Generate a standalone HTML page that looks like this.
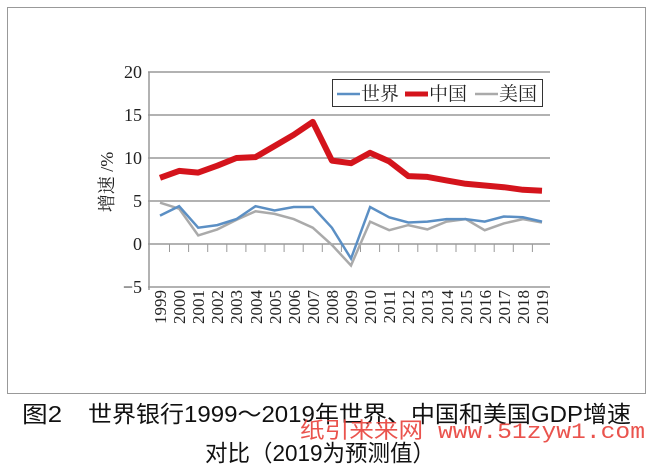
<!DOCTYPE html>
<html><head><meta charset="utf-8"><style>
body{margin:0;background:#fff;width:653px;height:472px;overflow:hidden}
svg{display:block}
</style></head><body>
<svg width="653" height="472" xmlns="http://www.w3.org/2000/svg" font-family="'Liberation Serif','Noto Serif CJK SC',serif">
<rect x="7.5" y="7.5" width="638" height="386" fill="#fff" stroke="#999" stroke-width="1"/>
<g stroke="#999" stroke-width="1.5">
<line x1="148" y1="72" x2="550" y2="72"/>
<line x1="148" y1="115" x2="550" y2="115"/>
<line x1="148" y1="158" x2="550" y2="158"/>
<line x1="148" y1="201" x2="550" y2="201"/>
<line x1="148" y1="244" x2="550" y2="244"/>
<line x1="148" y1="287" x2="550" y2="287"/>
<line x1="149" y1="72" x2="149" y2="290"/>
</g>
<g stroke="#999" stroke-width="1">
<line x1="169.5" y1="244" x2="169.5" y2="252"/><line x1="188.6" y1="244" x2="188.6" y2="252"/><line x1="207.7" y1="244" x2="207.7" y2="252"/><line x1="226.8" y1="244" x2="226.8" y2="252"/><line x1="245.9" y1="244" x2="245.9" y2="252"/><line x1="265" y1="244" x2="265" y2="252"/><line x1="284.1" y1="244" x2="284.1" y2="252"/><line x1="303.2" y1="244" x2="303.2" y2="252"/><line x1="322.3" y1="244" x2="322.3" y2="252"/><line x1="341.4" y1="244" x2="341.4" y2="252"/><line x1="360.5" y1="244" x2="360.5" y2="252"/><line x1="379.6" y1="244" x2="379.6" y2="252"/><line x1="398.7" y1="244" x2="398.7" y2="252"/><line x1="417.8" y1="244" x2="417.8" y2="252"/><line x1="436.9" y1="244" x2="436.9" y2="252"/><line x1="456" y1="244" x2="456" y2="252"/><line x1="475.1" y1="244" x2="475.1" y2="252"/><line x1="494.2" y1="244" x2="494.2" y2="252"/><line x1="513.3" y1="244" x2="513.3" y2="252"/><line x1="532.4" y1="244" x2="532.4" y2="252"/>
</g>
<g font-size="18" text-anchor="end" fill="#222">
<text x="142" y="78">20</text><text x="142" y="121">15</text><text x="142" y="164">10</text><text x="142" y="207">5</text><text x="142" y="250">0</text><text x="142" y="293">−5</text>
</g>
<text transform="translate(113,182) rotate(-90)" font-size="18" text-anchor="middle" fill="#222">增速 /%</text>
<g font-size="17" fill="#222" text-anchor="end">
<text transform="translate(166,290) rotate(-90)">1999</text><text transform="translate(185,290) rotate(-90)">2000</text><text transform="translate(204,290) rotate(-90)">2001</text><text transform="translate(223,290) rotate(-90)">2002</text><text transform="translate(242,290) rotate(-90)">2003</text><text transform="translate(262,290) rotate(-90)">2004</text><text transform="translate(281,290) rotate(-90)">2005</text><text transform="translate(300,290) rotate(-90)">2006</text><text transform="translate(319,290) rotate(-90)">2007</text><text transform="translate(338,290) rotate(-90)">2008</text><text transform="translate(357,290) rotate(-90)">2009</text><text transform="translate(376,290) rotate(-90)">2010</text><text transform="translate(395,290) rotate(-90)">2011</text><text transform="translate(414,290) rotate(-90)">2012</text><text transform="translate(433,290) rotate(-90)">2013</text><text transform="translate(453,290) rotate(-90)">2014</text><text transform="translate(472,290) rotate(-90)">2015</text><text transform="translate(491,290) rotate(-90)">2016</text><text transform="translate(510,290) rotate(-90)">2017</text><text transform="translate(529,290) rotate(-90)">2018</text><text transform="translate(548,290) rotate(-90)">2019</text>
</g>
<polyline fill="none" stroke="#aaa" stroke-width="2.5" points="160,202.7 179.1,208.7 198.2,235.4 217.3,229.4 236.4,219.9 255.5,211.3 274.6,213.9 293.7,219.1 312.8,227.7 331.9,244.9 351,265.5 370.1,221.6 389.2,230.2 408.3,225.1 427.4,229.4 446.5,221.6 465.6,219.1 484.7,230.2 503.8,223.4 522.9,219.1 542,222.5"/>
<polyline fill="none" stroke="#5b8fc4" stroke-width="2.5" points="160,215.6 179.1,206.2 198.2,227.7 217.3,225.1 236.4,219.1 255.5,206.2 274.6,210.5 293.7,207 312.8,207 331.9,227.7 351,258.6 370.1,207 389.2,217.3 408.3,222.5 427.4,221.6 446.5,219.1 465.6,219.1 484.7,221.6 503.8,216.5 522.9,217.3 542,221.6"/>
<polyline fill="none" stroke="#d4141c" stroke-width="6" stroke-linejoin="round" points="160,177.8 179.1,170.9 198.2,172.6 217.3,165.7 236.4,158 255.5,157.1 274.6,146 293.7,134.8 312.8,121.9 331.9,160.6 351,163.2 370.1,152.8 389.2,161.4 408.3,176.1 427.4,176.9 446.5,180.4 465.6,183.8 484.7,185.5 503.8,187.2 522.9,189.8 542,190.7"/>
<rect x="332.5" y="79.5" width="210" height="27" fill="#fff" stroke="#333" stroke-width="1"/>
<line x1="337" y1="94" x2="360" y2="94" stroke="#5b8fc4" stroke-width="2.5"/>
<text x="361" y="100" font-size="19" fill="#222">世界</text>
<line x1="405" y1="94" x2="428" y2="94" stroke="#d4141c" stroke-width="5"/>
<text x="429" y="100" font-size="19" fill="#222">中国</text>
<line x1="475" y1="94" x2="498" y2="94" stroke="#aaa" stroke-width="2.5"/>
<text x="499" y="100" font-size="19" fill="#222">美国</text>
<g font-family="'Liberation Sans','Noto Sans CJK SC',sans-serif" fill="#111" font-size="23">
<text x="22" y="422" textLength="40" lengthAdjust="spacingAndGlyphs">图2</text>
<text x="88" y="422" textLength="543" lengthAdjust="spacingAndGlyphs">世界银行1999～2019年世界、中国和美国GDP增速</text>
<text x="205" y="461" textLength="230" lengthAdjust="spacingAndGlyphs">对比（2019为预测值）</text>
</g>
<text x="300" y="438" font-family="'Liberation Mono','Noto Sans CJK SC',monospace" font-size="22" fill="#e8413a" opacity="0.9" textLength="345" lengthAdjust="spacingAndGlyphs">纸引来来网  www.51zyw1.com</text>
</svg>
</body></html>
